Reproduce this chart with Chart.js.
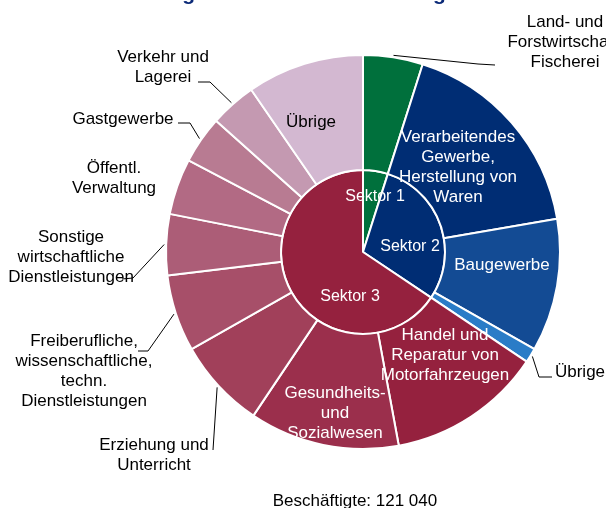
<!DOCTYPE html>
<html>
<head>
<meta charset="utf-8">
<script src="https://cdn.jsdelivr.net/npm/chart.js@4/dist/chart.umd.min.js"></script>
<style>
  html, body { margin: 0; padding: 0; background: #fff; }
  #wrap { width: 606px; height: 508px; }
</style>
</head>
<body>
<div id="wrap"><canvas id="chart" width="606" height="508"></canvas></div>
<script>
// --- data (Beschäftigte) ---
const branchLabels = [
  "Land- und Forstwirtschaft, Fischerei",
  "Verarbeitendes Gewerbe, Herstellung von Waren",
  "Baugewerbe",
  "Übrige (Sektor 2)",
  "Handel und Reparatur von Motorfahrzeugen",
  "Gesundheits- und Sozialwesen",
  "Erziehung und Unterricht",
  "Freiberufliche, wissenschaftliche, techn. Dienstleistungen",
  "Sonstige wirtschaftliche Dienstleistungen",
  "Öffentl. Verwaltung",
  "Gastgewerbe",
  "Verkehr und Lagerei",
  "Übrige (Sektor 3)"
];
const branchValues = [5930, 21060, 13190, 1450, 15370, 14890, 8960, 7630, 6050, 5570, 4720, 4600, 11620];

const sectorLabels = ["Sektor 1", "Sektor 2", "Sektor 3"];
const sectorValues = [5930, 35700, 79410];

const totalText = "Beschäftigte: 121 040";
const titleText = "Beschäftigte nach Wirtschaftszweigen";

// colours
const branchColors = [
  "#00703c", "#002d74", "#134b94", "#2a7cc7",
  "#95213e", "#9b2f4c", "#a1405a", "#a74f69", "#ac5d77",
  "#b26a84", "#b87b92", "#c499b1", "#d3b8d1"
];
const sectorColors = ["#00703c", "#002d74", "#95213e"];

const FONT = "'Liberation Sans', Arial, sans-serif";

// text placed around / on the rings
const textLabels = [
  { lines: ["Land- und", "Forstwirtschaft,", "Fischerei"], x: 565, y: 22, color: "#000" },
  { lines: ["Übrige"], x: 580, y: 372, color: "#000" },
  { lines: ["Verkehr und", "Lagerei"], x: 163, y: 57, color: "#000" },
  { lines: ["Gastgewerbe"], x: 123, y: 119, color: "#000" },
  { lines: ["Öffentl.", "Verwaltung"], x: 114, y: 168, color: "#000" },
  { lines: ["Sonstige", "wirtschaftliche", "Dienstleistungen"], x: 71, y: 237, color: "#000" },
  { lines: ["Freiberufliche,", "wissenschaftliche,", "techn.", "Dienstleistungen"], x: 84, y: 341, color: "#000" },
  { lines: ["Erziehung und", "Unterricht"], x: 154, y: 445, color: "#000" },
  { lines: ["Übrige"], x: 311, y: 122, color: "#000" },
  { lines: ["Verarbeitendes", "Gewerbe,", "Herstellung von", "Waren"], x: 458, y: 137, color: "#fff" },
  { lines: ["Baugewerbe"], x: 502, y: 265, color: "#fff" },
  { lines: ["Handel und", "Reparatur von", "Motorfahrzeugen"], x: 445, y: 335, color: "#fff" },
  { lines: ["Gesundheits-", "und", "Sozialwesen"], x: 335, y: 393, color: "#fff" },
  { lines: ["Sektor 1"], x: 375, y: 197, color: "#fff", size: 16 },
  { lines: ["Sektor 2"], x: 410, y: 247, color: "#fff", size: 16 },
  { lines: ["Sektor 3"], x: 350, y: 297, color: "#fff", size: 16 },
  { lines: [totalText], x: 355, y: 501, color: "#000" }
];

// leader lines: start at the outer edge of the slice, then run to the text
const leaders = [
  { idx: 0, pts: [[478, 64], [495, 65]] },
  { idx: 3, pts: [[539, 377], [552, 377]] },
  { idx: 11, pts: [[210, 82], [198, 82]] },
  { idx: 10, pts: [[190, 123], [178, 123]] },
  { idx: 8, pts: [[133, 278], [122, 279]] },
  { idx: 7, pts: [[148, 351], [138, 351]] },
  { idx: 6, pts: [[213, 450]] }
];

const labelPlugin = {
  id: 'ringLabels',
  afterDatasetsDraw(chart) {
    const ctx = chart.ctx;
    const arcs = chart.getDatasetMeta(0).data;
    ctx.save();

    // leader lines
    ctx.strokeStyle = "#000";
    ctx.lineWidth = 1;
    leaders.forEach(l => {
      const a = arcs[l.idx];
      const mid = (a.startAngle + a.endAngle) / 2;
      const r = a.outerRadius + 2;
      ctx.beginPath();
      ctx.moveTo(a.x + Math.cos(mid) * r, a.y + Math.sin(mid) * r);
      l.pts.forEach(p => ctx.lineTo(p[0], p[1]));
      ctx.stroke();
    });

    // texts
    ctx.textAlign = "center";
    ctx.textBaseline = "middle";
    textLabels.forEach(t => {
      ctx.font = (t.size || 17) + "px " + FONT;
      ctx.fillStyle = t.color;
      t.lines.forEach((line, i) => ctx.fillText(line, t.x, t.y + i * 20));
    });

    // title (mostly above the visible area)
    ctx.font = "bold 21px " + FONT;
    ctx.fillStyle = "#0b2a78";
    ctx.textBaseline = "alphabetic";
    ctx.fillText(titleText, 279, 0);

    ctx.restore();
  }
};

new Chart(document.getElementById('chart'), {
  type: 'doughnut',
  data: {
    labels: branchLabels,
    datasets: [
      {
        label: 'Wirtschaftszweige',
        data: branchValues,
        backgroundColor: branchColors,
        borderColor: '#fff',
        borderWidth: 2,
        weight: 115
      },
      {
        label: 'Sektoren',
        data: sectorValues,
        backgroundColor: sectorColors,
        borderColor: '#fff',
        borderWidth: 2,
        weight: 82
      }
    ]
  },
  options: {
    responsive: false,
    animation: false,
    cutout: 0,
    layout: { padding: { left: 165, right: 45, top: 54, bottom: 58 } },
    plugins: {
      legend: { display: false },
      tooltip: { enabled: false }
    }
  },
  plugins: [labelPlugin]
});
</script>
</body>
</html>
